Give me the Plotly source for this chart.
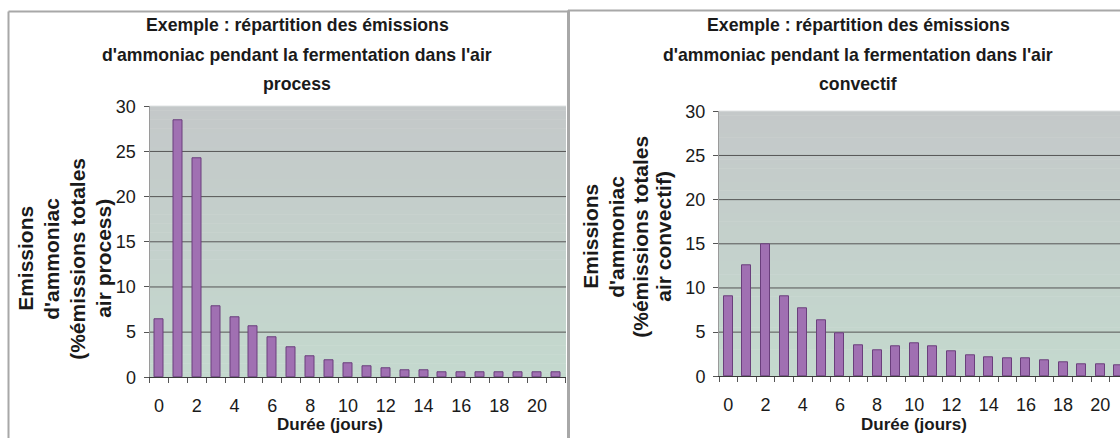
import plotly.graph_objects as go

W, H = 1120, 451
# the page is shown slightly squeezed vertically: shown_y = SY * fig_y + OY
SY, OY = 0.952, 9.1

# Day of fermentation (category positions)
days = list(range(22))

# Share of total ammonia emissions per day (%)
process_pct = [6.4, 28.5, 24.3, 7.9, 6.7, 5.6, 4.4, 3.3, 2.3, 1.9, 1.6, 1.2,
               1.05, 0.8, 0.8, 0.6, 0.6, 0.6, 0.6, 0.6, 0.6, 0.6]
convectif_pct = [9.1, 12.6, 15.0, 9.1, 7.7, 6.3, 4.9, 3.5, 3.0, 3.4, 3.75, 3.4,
                 2.8, 2.4, 2.2, 2.0, 2.0, 1.8, 1.55, 1.35, 1.35, 1.2]

panel_titles = [
    ["Exemple : répartition des émissions",
     "d'ammoniac pendant la fermentation dans l'air",
     "process"],
    ["Exemple : répartition des émissions",
     "d'ammoniac pendant la fermentation dans l'air",
     "convectif"],
]
y_titles = [
    ["Emissions", "d'ammoniac", "(%émissions totales", "air process)"],
    ["Emissions", "d'ammoniac", "(%émissions totales", "air convectif)"],
]
x_title = "Durée (jours)"
y_ticks = [0, 5, 10, 15, 20, 25, 30]
x_ticks = list(range(0, 21, 2))

FONT = "Liberation Sans, Arial, sans-serif"
BAR_FILL = "#a070b2"
BAR_EDGE = "#6a3f7c"


def px_x(v):
    return v / W


def px_y(v):
    return 1 - ((v - OY) / SY) / H


# plot-area geometry in pixels: left, right, top, bottom, category pitch
plots = [
    dict(l=149.5, r=566.0, t=105.0, b=375.0, pitch=18.9),
    dict(l=719.0, r=1120.0, t=110.0, b=374.0, pitch=18.6),
]

fig = go.Figure()
series = [process_pct, convectif_pct]
for i, (vals, g) in enumerate(zip(series, plots)):
    sfx = "" if i == 0 else "2"
    fig.add_trace(go.Bar(
        x=days, y=vals, width=0.48,
        marker=dict(color=BAR_FILL, line=dict(color=BAR_EDGE, width=1)),
        xaxis="x" + sfx, yaxis="y" + sfx, showlegend=False,
        hoverinfo="x+y",
    ))

layout = dict(
    width=W, height=H,
    margin=dict(l=0, r=0, t=0, b=0),
    paper_bgcolor="white",
    plot_bgcolor="rgba(0,0,0,0)",
    font=dict(family=FONT, color="#1a1a1a", size=18),
    bargap=0,
)

shapes = []
annotations = []
for i, g in enumerate(plots):
    sfx = "" if i == 0 else "2"
    xr = -0.5 + (g["r"] - g["l"]) / g["pitch"]
    layout["xaxis" + sfx] = dict(
        domain=[px_x(g["l"]), px_x(g["r"])],
        range=[-0.5, xr],
        anchor="y" + sfx,
        tickmode="array", tickvals=x_ticks,
        ticks="", showgrid=False, zeroline=False,
        showline=True, linecolor="#3a3a3a", linewidth=1,
        tickfont=dict(size=18, color="#1a1a1a"),
        ticklabelstandoff=12,
        minor=dict(ticks="outside", tick0=-0.5, dtick=1, ticklen=5,
                   tickcolor="#555555", showgrid=False),
        fixedrange=True,
    )
    layout["yaxis" + sfx] = dict(
        domain=[px_y(g["b"]), px_y(g["t"])],
        range=[0, 30],
        anchor="x" + sfx,
        tickmode="array", tickvals=y_ticks,
        ticks="outside", ticklen=5, tickcolor="#555555",
        ticklabelstandoff=4,
        showgrid=False, zeroline=False,
        showline=True, linecolor="#9a9a9a", linewidth=1,
        tickfont=dict(size=18, color="#1a1a1a"),
        fixedrange=True,
    )

    # vertical gradient of the plot area: grey at the top, pale green at the base
    n = 60
    top_c = (196, 200, 201)
    bot_c = (196, 217, 206)
    for k in range(n):
        f = (k + 0.5) / n
        c = tuple(round(bot_c[j] + (top_c[j] - bot_c[j]) * f) for j in range(3))
        shapes.append(dict(
            type="rect", xref="x" + sfx + " domain", yref="y" + sfx + " domain",
            x0=0, x1=1, y0=k / n, y1=(k + 1) / n + 0.002,
            fillcolor="rgb(%d,%d,%d)" % c, line=dict(width=0), layer="below",
        ))
    # horizontal grid lines
    for v in y_ticks[1:-1]:
        shapes.append(dict(
            type="line", xref="x" + sfx + " domain", yref="y" + sfx,
            x0=0, x1=1, y0=v, y1=v,
            line=dict(color="#555555", width=1), layer="below",
        ))
    shapes.append(dict(
        type="line", xref="x" + sfx + " domain", yref="y" + sfx,
        x0=0, x1=1, y0=30, y1=30,
        line=dict(color="#d8dcdc", width=1), layer="below",
    ))

# panel frames
BORDER = "#a8a8a8"
shapes += [
    dict(type="line", xref="paper", yref="paper", x0=px_x(8.5), x1=px_x(568),
         y0=px_y(10.5), y1=px_y(10.5), line=dict(color=BORDER, width=2)),
    dict(type="line", xref="paper", yref="paper", x0=px_x(8.5), x1=px_x(8.5),
         y0=px_y(10.5), y1=0, line=dict(color=BORDER, width=2)),
    dict(type="line", xref="paper", yref="paper", x0=px_x(568.5), x1=px_x(568.5),
         y0=px_y(9.5), y1=0, line=dict(color=BORDER, width=3)),
    dict(type="line", xref="paper", yref="paper", x0=px_x(568), x1=1,
         y0=px_y(9.5), y1=px_y(9.5), line=dict(color=BORDER, width=2)),
]

# titles
title_cx = [297, 858]
title_y = [24, 54, 83]
for i in range(2):
    for line, yy in zip(panel_titles[i], title_y):
        annotations.append(dict(
            text="<b>%s</b>" % line, xref="paper", yref="paper",
            x=px_x(title_cx[i]), y=px_y(yy), xanchor="center", yanchor="middle",
            showarrow=False, font=dict(size=17.7, family=FONT, color="#1a1a1a"),
        ))

# rotated y-axis titles
ytitle_x = [[26, 52, 78, 104], [591, 617, 641, 664]]
ytitle_cy = [257, 235]
for i in range(2):
    for line, xx in zip(y_titles[i], ytitle_x[i]):
        annotations.append(dict(
            text="<b>%s</b>" % line, xref="paper", yref="paper",
            x=px_x(xx), y=px_y(ytitle_cy[i]), xanchor="center", yanchor="middle",
            textangle=-90, showarrow=False,
            font=dict(size=21, family=FONT, color="#1a1a1a"),
        ))

# x-axis titles
xtitle_cx = [330, 914]
for i in range(2):
    annotations.append(dict(
        text="<b>%s</b>" % x_title, xref="paper", yref="paper",
        x=px_x(xtitle_cx[i]), y=px_y(422), xanchor="center", yanchor="middle",
        showarrow=False, font=dict(size=17, family=FONT, color="#1a1a1a"),
    ))

layout["shapes"] = shapes
layout["annotations"] = annotations
fig.update_layout(**layout)
fig.write_html("out.html")
